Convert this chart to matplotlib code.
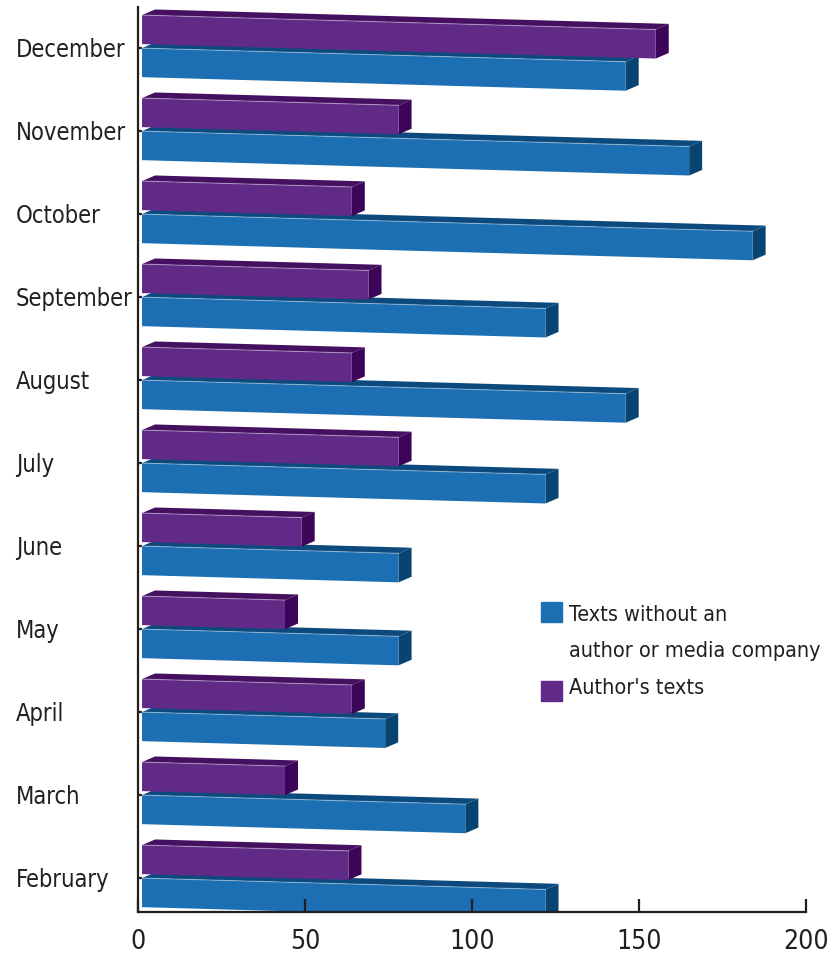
import matplotlib.pyplot as plt
import numpy as np
from matplotlib.patches import Polygon, Rectangle
from matplotlib.transforms import Affine2D

# monthly counts, bottom to top
months = ['February', 'March', 'April', 'May', 'June', 'July',
          'August', 'September', 'October', 'November', 'December']
no_author = [122, 98, 74, 78, 78, 122, 146, 122, 184, 165, 146]
author = [63, 44, 64, 44, 49, 78, 64, 69, 64, 78, 155]

blue = ('#1b6fb2', '#0c4a7e', '#084472')
purple = ('#622a87', '#45105f', '#3c0557')

plt.rcParams['font.family'] = ['DejaVu Sans']
plt.rcParams['font.stretch'] = 'condensed'

fig = plt.figure(figsize=(8.39, 9.58), dpi=100)
ax = fig.add_axes([0.1645, 0.048, 0.7962, 0.9447])
ax.set_xlim(0, 200)
ax.set_ylim(-0.41, 10.494)

# slight downward tilt of the bars to the right
tilt = Affine2D().skew(0, np.arctan(-0.00113)) + ax.transData
depth_x, depth_y = 3.9, 0.072
start = 1.2  # small gap between the axis wall and the bars


def bar3d(value, y0, h, colors):
    """Draw a box-like bar: front face plus top and side faces"""
    front, top, side = colors
    faces = [
        ([(start, y0 + h), (value, y0 + h), (value + depth_x, y0 + h + depth_y),
          (start + depth_x, y0 + h + depth_y)], top),
        ([(value, y0), (value + depth_x, y0 + depth_y),
          (value + depth_x, y0 + h + depth_y), (value, y0 + h)], side),
        ([(start, y0), (value, y0), (value, y0 + h), (start, y0 + h)], front),
    ]
    for pts, c in faces:
        ax.add_patch(Polygon(pts, closed=True, facecolor=c, edgecolor='none',
                             transform=tilt))
    # thin highlight along the top edge of the front face
    ax.plot([start, value], [y0 + h, y0 + h], color='white', alpha=0.35, lw=0.8,
            transform=tilt)


for i in range(len(months)):
    bar3d(no_author[i], i - 0.35, 0.35, blue)
    bar3d(author[i], i + 0.048, 0.35, purple)

for side in ['top', 'right']:
    ax.spines[side].set_visible(False)
for side in ['left', 'bottom']:
    ax.spines[side].set_color('#231f20')
    ax.spines[side].set_linewidth(1.6)

ax.set_xticks([0, 50, 100, 150, 200])
ax.tick_params(axis='x', direction='in', length=9.5, width=1.6, color='#231f20',
               labelsize=19, pad=12, labelcolor='#231f20')
ax.set_yticks(range(len(months)))
ax.set_yticklabels(months, ha='left')
ax.tick_params(axis='y', direction='in', length=3, width=1.6, color='#231f20',
               labelsize=17, pad=87.8, labelcolor='#231f20')

# legend drawn by hand
def fy(y):
    return 1 - y / 958.0

fig.patches.append(Rectangle((541 / 839, fy(622)), 21 / 839, 20 / 958,
                             transform=fig.transFigure, color=blue[0]))
fig.patches.append(Rectangle((541 / 839, fy(701)), 21 / 839, 20 / 958,
                             transform=fig.transFigure, color=purple[0]))
fig.text(569 / 839, fy(621), 'Texts without an', fontsize=15.5, va='baseline',
         color='#231f20')
fig.text(569 / 839, fy(657), 'author or media company', fontsize=15.5,
         va='baseline', color='#231f20')
fig.text(569 / 839, fy(694), "Author's texts", fontsize=15.5, va='baseline',
         color='#231f20')

fig.savefig('out.png', dpi=100)
